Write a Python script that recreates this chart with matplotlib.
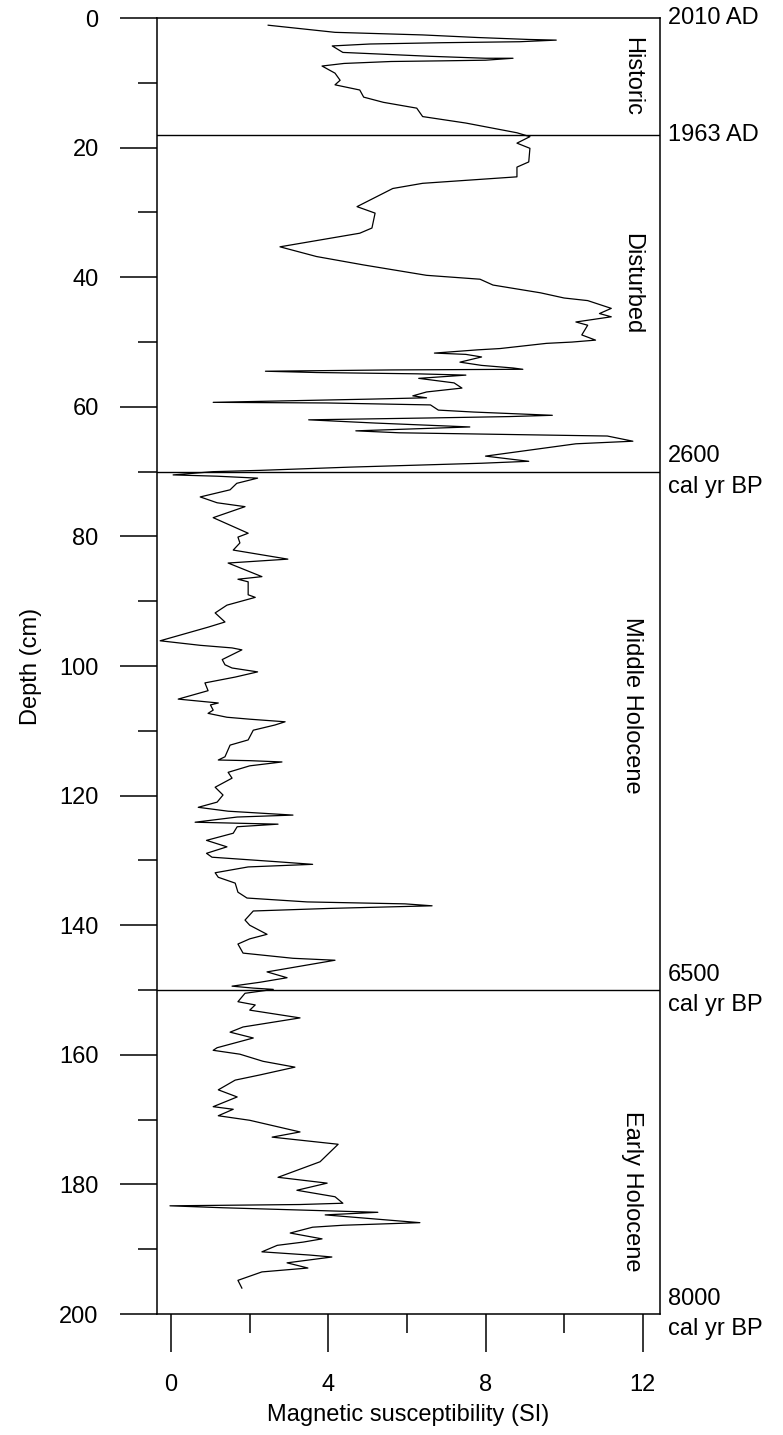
import numpy as np
import matplotlib
matplotlib.use("Agg")
import matplotlib.pyplot as plt
import matplotlib.transforms as mtrans

plt.rcParams['font.family'] = ['Liberation Sans', 'DejaVu Sans']

# magnetic susceptibility (SI) and depth (cm)
ms = [2.47, 4.17, 6.4, 7.8, 9.1, 9.8, 8.87, 6.9, 5.06, 4.1, 4.37, 6.6, 8.0, 8.7, 8.0, 6.9, 5.6, 4.4, 3.84,
      4.17, 4.3, 4.17, 4.8, 4.9, 5.4, 6.25, 6.4, 7.5, 8.8, 9.13,
      8.8, 9.13, 9.1, 8.8, 8.8, 7.6, 6.4, 5.64, 4.73, 5.19, 5.11, 4.8, 2.77, 3.7, 4.9, 6.5, 7.86, 8.19,
      9.4, 10.0, 10.6, 10.8, 11.2, 10.9, 11.2, 10.3, 10.6, 10.45, 10.8, 10.2, 9.55, 8.37, 7.8, 6.7, 7.5,
      7.9, 7.35, 7.9, 8.7, 8.95, 5.6, 2.4, 3.7, 6.25, 7.5, 6.3, 7.2, 7.4, 6.5, 6.15, 6.5, 5.1, 1.07,
      3.97, 6.6, 6.8, 7.7, 9.7, 8.6, 6.7, 3.5, 5.2, 7.6, 4.7, 5.8, 7.9, 11.1, 11.75, 10.3, 8.0, 9.1,
      7.9, 4.55, 2.26, 1.07, 0.05, 1.17, 2.2,
      1.67, 1.5, 0.74, 1.17, 1.88, 1.07, 1.96, 1.7, 1.75, 1.58, 2.97, 1.45, 2.31, 1.7, 1.96, 1.96, 2.14,
      1.42, 1.12, 1.37, 0.94, -0.28, 0.74, 1.55, 1.8, 1.3, 1.37, 1.55, 2.2, 1.63, 0.86, 0.94, 0.18, 1.2,
      1.0, 1.07, 0.94, 1.42, 2.0, 2.9, 2.64, 2.09, 1.96, 1.5, 1.37, 1.2, 2.0, 2.82, 2.0, 1.45, 1.55,
      1.12, 1.32, 1.17, 0.69, 1.45, 3.1, 1.68, 0.61, 2.72, 1.68, 1.58, 0.9, 1.42, 0.9, 1.04, 2.7, 3.6,
      1.96, 1.12, 1.2, 1.63, 1.7, 1.93, 3.46, 5.95, 6.64, 4.04, 2.09, 1.88, 2.0, 2.44, 2.0, 1.7, 1.83,
      3.1, 4.17, 2.44, 2.95, 2.26, 1.55, 2.09, 2.6, 1.88,
      1.7, 2.14, 2.0, 3.28, 1.83, 1.5, 2.09, 1.17, 1.07, 1.75, 2.34, 3.15, 2.26, 1.63, 1.2, 1.68, 1.07,
      1.58, 1.2, 2.0, 3.28, 2.57, 4.25, 3.79, 2.72, 3.97, 3.2, 4.17, 4.37, 3.28, -0.03, 1.32, 5.26, 3.92,
      6.33, 4.37, 3.6, 3.03, 3.84, 3.36, 2.7, 2.31, 3.53, 4.09, 2.95, 3.48, 2.31, 1.7, 1.8]
depth = [1.1, 2.2, 2.6, 3.0, 3.3, 3.4, 3.65, 3.8, 4.0, 4.3, 5.3, 5.9, 6.2, 6.2, 6.5, 6.6, 6.7, 7.0, 7.4,
         8.5, 9.6, 10.3, 11.1, 12.2, 13.0, 13.9, 15.2, 16.2, 17.7, 18.3,
         19.3, 20.1, 22.2, 23.0, 24.5, 25.0, 25.5, 26.3, 29.1, 30.1, 32.4, 33.2, 35.3, 36.8, 38.1, 39.7,
         40.3, 41.2, 42.4, 43.2, 43.6, 44.0, 44.8, 45.6, 46.1, 46.9, 47.4, 48.9, 49.7, 50.0, 50.2, 51.0,
         51.2, 51.7, 51.9, 52.3, 53.1, 53.6, 54.0, 54.2, 54.3, 54.5, 54.7, 54.9, 55.1, 55.6, 56.3, 57.1,
         57.7, 58.3, 58.6, 58.8, 59.3, 59.4, 59.7, 60.5, 60.8, 61.3, 61.5, 61.7, 62.0, 62.5, 63.1, 63.7,
         64.0, 64.2, 64.5, 65.3, 65.7, 67.6, 68.4, 68.7, 69.3, 69.8, 70.0, 70.5, 70.7, 71.0,
         71.8, 72.8, 73.9, 74.8, 75.4, 77.1, 79.5, 80.1, 81.0, 82.1, 83.5, 84.1, 86.2, 86.6, 87.0, 89.0,
         89.4, 90.6, 91.8, 93.2, 94.0, 96.1, 96.8, 97.2, 97.5, 99.0, 99.8, 100.3, 100.9, 101.7, 102.6,
         103.8, 105.1, 105.7, 106.0, 106.8, 107.3, 107.9, 108.2, 108.6, 109.1, 109.9, 111.4, 112.2, 114.0,
         114.5, 114.6, 114.8, 115.4, 116.4, 117.3, 118.7, 119.9, 121.0, 121.8, 122.4, 123.0, 123.3, 124.1,
         124.4, 124.8, 125.8, 126.9, 127.9, 128.9, 129.5, 130.2, 130.6, 131.0, 131.9, 132.6, 133.5, 134.9,
         135.8, 136.4, 136.7, 137.0, 137.4, 137.8, 139.2, 140.0, 141.4, 142.1, 142.9, 144.3, 145.1, 145.4,
         147.2, 148.1, 148.8, 149.4, 149.7, 149.9, 150.5,
         151.8, 152.3, 153.1, 154.3, 155.7, 156.5, 157.4, 158.9, 159.3, 159.9, 161.0, 161.9, 163.1, 163.9,
         165.4, 166.5, 168.0, 168.4, 169.4, 170.1, 171.9, 172.7, 173.8, 176.5, 178.9, 179.8, 180.9, 181.9,
         182.9, 183.1, 183.3, 183.6, 184.3, 184.7, 185.9, 186.3, 186.6, 187.5, 188.4, 188.9, 189.4, 190.4,
         190.9, 191.2, 192.1, 192.9, 193.5, 194.8, 196.0]

# zone boundaries and labels
bounds = [18, 70, 150]
zone_names = ['Historic', 'Disturbed', 'Middle Holocene', 'Early Holocene']
zone_mid = [9, 41, 106, 181]
age_depth = [0, 18, 70, 150, 200]
age_text = ['2010 AD', '1963 AD', '2600\ncal yr BP', '6500\ncal yr BP', '8000\ncal yr BP']

fig = plt.figure(figsize=(7.83, 14.35), dpi=100)
ax = fig.add_axes([0.2005, 0.0843, 0.6424, 0.9031])

ax.plot(ms, depth, color='black', lw=0.9)
for b in bounds:
    ax.axhline(b, color='black', lw=1.0)

ax.set_xlim(-0.36, 12.44)
ax.set_ylim(200, 0)
ax.set_xticks([0, 4, 8, 12])
ax.set_xticks([2, 6, 10], minor=True)
ax.set_yticks(np.arange(0, 201, 20))
ax.set_yticks(np.arange(10, 200, 20), minor=True)
ax.tick_params(which='major', length=27, width=1.1, labelsize=17, pad=15)
ax.tick_params(axis='x', which='major', pad=16)
ax.tick_params(which='minor', length=13.5, width=1.1)
for s in ax.spines.values():
    s.set_linewidth(1.1)

ax.set_xlabel('Magnetic susceptibility (SI)', fontsize=17, labelpad=6)
ax.set_ylabel('Depth (cm)', fontsize=17, labelpad=12)

for name, d in zip(zone_names, zone_mid):
    ax.text(11.72, d, name, rotation=270, ha='center', va='center', fontsize=17)

tr = mtrans.blended_transform_factory(ax.transAxes, ax.transData)
for d, t in zip(age_depth, age_text):
    ax.text(1.015, d, t, transform=tr, ha='left', va='center', fontsize=17,
            linespacing=1.5, clip_on=False)

fig.savefig('out.png', dpi=100)
